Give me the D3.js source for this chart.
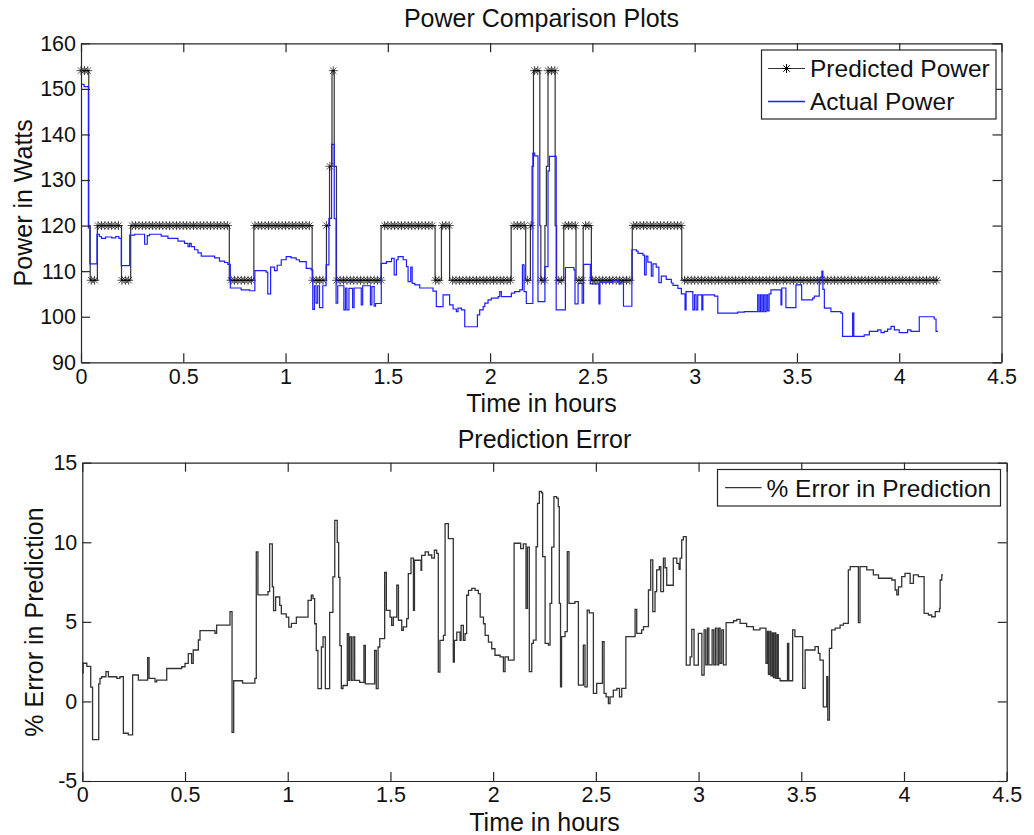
<!DOCTYPE html>
<html>
<head>
<meta charset="utf-8">
<script src="https://cdn.jsdelivr.net/npm/d3@7"></script>
<style>
  body { margin: 0; background: #fff; }
  svg { display: block; font-family: "Liberation Sans", Arial, sans-serif; }
</style>
</head>
<body>
<svg width="1034" height="835"></svg>
<script>
// tick labels
const hourTicks = [0, 0.5, 1, 1.5, 2, 2.5, 3, 3.5, 4, 4.5];
const wattTicks = [90, 100, 110, 120, 130, 140, 150, 160];
const errorTicks = [-5, 0, 5, 10, 15];

const tEnd = 4.19;          // last reading, hours
const sampleStep = 1 / 60;  // one prediction a minute

// [time in hours, watts] - each value holds until the next change
const predictedPower = [
  [0, 154], [0.038, 120], [0.045, 108], [0.08, 120], [0.198, 108], [0.243, 120],
  [0.725, 108], [0.845, 120], [1.13, 108], [1.2, 120], [1.215, 133], [1.227, 154],
  [1.238, 133], [1.249, 108], [1.467, 120], [1.731, 108], [1.762, 120], [1.802, 108],
  [2.103, 120], [2.174, 108], [2.197, 120], [2.205, 133], [2.212, 154], [2.243, 120],
  [2.248, 108], [2.268, 120], [2.275, 133], [2.283, 154], [2.318, 120], [2.325, 108],
  [2.36, 120], [2.42, 108], [2.455, 120], [2.495, 108], [2.695, 120], [2.937, 108]
];

const actualPower = [
  [0, 151.0], [0.015, 150.5], [0.036, 119.5], [0.043, 111.6], [0.078, 118.1], [0.09, 117.6],
  [0.1, 117.2], [0.12, 117.5], [0.15, 117.3], [0.17, 117.6], [0.185, 117.2], [0.197, 111.2],
  [0.238, 117.9], [0.262, 118.1], [0.311, 115.9], [0.324, 117.8], [0.335, 118.1], [0.392, 117.7],
  [0.425, 117.2], [0.474, 116.6], [0.506, 116.1], [0.523, 115.4], [0.531, 116.1], [0.539, 115.4],
  [0.555, 114.7], [0.572, 114.0], [0.588, 113.3], [0.653, 112.9], [0.677, 112.2], [0.702, 111.9],
  [0.718, 111.5], [0.73, 106.3], [0.783, 105.9], [0.824, 105.7], [0.85, 110.1], [0.905, 109.8],
  [0.913, 105.0], [0.927, 110.9], [0.946, 110.1], [0.959, 111.3], [0.979, 112.5], [1.003, 113.2],
  [1.027, 112.9], [1.052, 112.5], [1.068, 112.1], [1.101, 110.6], [1.125, 110.3], [1.133, 101.6],
  [1.141, 106.8], [1.149, 103.0], [1.157, 106.8], [1.166, 102.0], [1.182, 106.8], [1.198, 111.4],
  [1.212, 121.6], [1.225, 137.8], [1.238, 121.5], [1.247, 103.0], [1.255, 106.8], [1.285, 101.5],
  [1.293, 106.3], [1.3, 101.5], [1.31, 106.2], [1.328, 102.0], [1.335, 106.3], [1.37, 102.6],
  [1.377, 106.8], [1.415, 102.6], [1.422, 106.6], [1.433, 102.3], [1.44, 102.9], [1.468, 111.7],
  [1.493, 112.1], [1.518, 112.8], [1.531, 109.2], [1.542, 112.5], [1.55, 113.2], [1.575, 112.5],
  [1.591, 111.0], [1.599, 107.7], [1.612, 110.9], [1.619, 107.3], [1.632, 107.0], [1.656, 106.3],
  [1.721, 105.6], [1.737, 102.2], [1.77, 104.8], [1.802, 102.6], [1.819, 101.7], [1.835, 101.1],
  [1.843, 101.9], [1.86, 101.5], [1.876, 97.8], [1.938, 100.4], [1.949, 101.5], [1.966, 102.2],
  [1.974, 103.0], [1.99, 103.7], [2.006, 104.1], [2.039, 104.4], [2.047, 105.5], [2.055, 104.4],
  [2.104, 105.2], [2.12, 105.5], [2.145, 105.9], [2.158, 111.4], [2.166, 105.5], [2.177, 102.9],
  [2.209, 135.9], [2.218, 135.3], [2.234, 103.3], [2.268, 111.0], [2.283, 132.0], [2.29, 135.2],
  [2.323, 101.5], [2.368, 110.8], [2.41, 110.3], [2.415, 102.8], [2.43, 107.3], [2.45, 103.0],
  [2.457, 111.5], [2.49, 107.2], [2.532, 102.8], [2.537, 107.6], [2.6, 107.9], [2.63, 107.2],
  [2.64, 107.7], [2.652, 102.3], [2.693, 114.7], [2.715, 114.4], [2.723, 113.9], [2.747, 113.5],
  [2.755, 109.2], [2.763, 113.3], [2.771, 112.0], [2.788, 108.9], [2.796, 111.6], [2.812, 110.9],
  [2.825, 107.5], [2.837, 108.9], [2.861, 108.2], [2.886, 107.4], [2.894, 106.9], [2.918, 106.2],
  [2.935, 105.0], [2.953, 101.5], [2.958, 105.5], [2.991, 101.5], [2.999, 104.8], [3.007, 101.5],
  [3.015, 104.8], [3.035, 101.5], [3.04, 104.8], [3.097, 104.5], [3.113, 100.8], [3.21, 101.0],
  [3.243, 101.1], [3.308, 104.8], [3.315, 101.1], [3.322, 104.8], [3.329, 101.1], [3.336, 104.8],
  [3.343, 101.1], [3.35, 104.8], [3.357, 101.3], [3.364, 105.0], [3.373, 105.9], [3.422, 102.6],
  [3.426, 106.3], [3.446, 102.0], [3.495, 107.0], [3.523, 103.7], [3.577, 104.1], [3.585, 104.5],
  [3.609, 108.5], [3.622, 110.0], [3.627, 106.0], [3.634, 101.9], [3.666, 101.1], [3.715, 100.8],
  [3.723, 95.7], [3.772, 100.8], [3.778, 95.7], [3.829, 96.0], [3.854, 96.8], [3.895, 97.1],
  [3.911, 96.5], [3.927, 96.8], [3.943, 97.3], [3.96, 97.9], [3.976, 97.1], [4.0, 96.5],
  [4.041, 97.1], [4.057, 96.8], [4.098, 100.0], [4.171, 99.5], [4.18, 96.8]
];

// [time in hours, % error]
const predictionError = [
  [0, 1.8], [0.004, 2.4], [0.022, 2.2], [0.041, 0.9], [0.05, -2.4], [0.08, 1.1], [0.086, 1.45],
  [0.094, 1.55], [0.115, 1.87], [0.127, 1.55], [0.168, 1.45], [0.183, 1.55], [0.2, -2.0],
  [0.224, -2.1], [0.245, 1.66], [0.273, 1.34], [0.318, 2.75], [0.325, 1.45], [0.354, 1.23],
  [0.362, 1.34], [0.411, 2.07], [0.484, 2.18], [0.5, 2.39], [0.516, 3.0], [0.532, 2.39],
  [0.54, 3.23], [0.565, 3.86], [0.573, 4.45], [0.646, 4.27], [0.654, 4.8], [0.719, 5.64],
  [0.729, -1.95], [0.737, 1.3], [0.78, 1.15], [0.84, 1.45], [0.847, 9.4], [0.855, 6.7],
  [0.904, 6.9], [0.912, 9.9], [0.925, 7.2], [0.931, 5.7], [0.941, 6.56], [0.961, 6.04],
  [0.969, 5.5], [0.993, 5.3], [1.005, 4.67], [1.018, 4.9], [1.042, 5.3], [1.099, 6.35],
  [1.115, 6.67], [1.123, 6.46], [1.131, 4.88], [1.139, 3.2], [1.147, 0.8], [1.164, 3.42],
  [1.172, 4.05], [1.183, 0.8], [1.204, 5.6], [1.22, 7.82], [1.229, 11.38], [1.241, 10.0],
  [1.248, 7.8], [1.254, 3.5], [1.261, 0.8], [1.269, 1.0], [1.29, 4.26], [1.297, 1.32],
  [1.302, 4.05], [1.31, 1.32], [1.318, 4.05], [1.326, 1.32], [1.35, 1.2], [1.371, 3.52],
  [1.378, 1.1], [1.423, 3.2], [1.431, 0.8], [1.44, 3.42], [1.448, 3.94], [1.472, 8.1],
  [1.48, 5.72], [1.498, 5.3], [1.506, 4.78], [1.514, 5.3], [1.531, 7.3], [1.539, 5.1],
  [1.555, 4.47], [1.563, 4.68], [1.579, 5.2], [1.587, 8.03], [1.6, 9.0], [1.612, 5.72],
  [1.617, 8.87], [1.649, 8.24], [1.652, 9.18], [1.669, 9.4], [1.685, 9.2], [1.701, 9.0],
  [1.714, 9.5], [1.725, 9.3], [1.733, 1.84], [1.741, 3.84], [1.758, 4.15], [1.766, 11.17],
  [1.782, 10.23], [1.806, 2.47], [1.811, 3.84], [1.823, 4.36], [1.839, 3.84], [1.844, 4.78],
  [1.855, 3.84], [1.863, 4.26], [1.871, 6.67], [1.88, 6.98], [1.896, 7.1], [1.912, 6.98],
  [1.928, 6.77], [1.937, 5.3], [1.953, 4.88], [1.961, 4.15], [1.977, 3.73], [1.993, 3.31],
  [2.009, 2.9], [2.034, 2.8], [2.05, 1.87], [2.058, 2.8], [2.074, 2.6], [2.102, 9.94],
  [2.134, 9.6], [2.147, 9.9], [2.16, 5.85], [2.167, 9.7], [2.176, 1.87], [2.188, 3.65],
  [2.196, 3.85], [2.209, 9.72], [2.216, 12.45], [2.225, 13.19], [2.236, 13.1], [2.241, 9.1],
  [2.253, 3.65], [2.269, 3.54], [2.277, 6.16], [2.285, 9.7], [2.296, 12.87], [2.309, 12.77],
  [2.317, 12.24], [2.322, 6.16], [2.328, 0.92], [2.333, 4.07], [2.35, 4.38], [2.361, 9.41],
  [2.369, 6.16], [2.398, 6.27], [2.415, 1.03], [2.439, 3.54], [2.447, 0.92], [2.458, 5.74],
  [2.468, 5.57], [2.488, 0.5], [2.504, 1.13], [2.532, 3.75], [2.54, 0.5], [2.55, 0.29],
  [2.561, -0.13], [2.569, 0.29], [2.585, 0.71], [2.602, 0.82], [2.615, 0.29], [2.626, 0.82],
  [2.646, 4.07], [2.691, 5.79], [2.699, 4.28], [2.723, 4.49], [2.732, 4.7], [2.756, 7.0],
  [2.767, 8.89], [2.777, 5.64], [2.788, 6.9], [2.796, 8.26], [2.809, 8.47], [2.816, 6.9],
  [2.829, 9.0], [2.837, 8.4], [2.845, 7.3], [2.877, 9.0], [2.894, 8.68], [2.905, 8.3],
  [2.91, 9.0], [2.918, 10.15], [2.926, 10.36], [2.94, 2.28], [2.959, 2.8], [2.967, 4.53],
  [2.978, 2.28], [2.999, 4.28], [3.016, 1.66], [3.027, 4.49], [3.035, 2.3], [3.043, 4.6],
  [3.05, 2.3], [3.066, 4.5], [3.074, 2.3], [3.082, 4.6], [3.09, 2.3], [3.098, 4.6],
  [3.105, 2.4], [3.113, 4.5], [3.121, 2.3], [3.134, 4.95], [3.17, 5.07], [3.186, 5.16],
  [3.202, 4.91], [3.234, 4.7], [3.267, 4.49], [3.299, 4.6], [3.328, 2.39], [3.335, 4.4],
  [3.34, 1.7], [3.347, 4.4], [3.352, 1.6], [3.359, 4.3], [3.364, 1.5], [3.371, 4.3],
  [3.376, 1.45], [3.383, 4.2], [3.388, 1.45], [3.397, 1.3], [3.433, 3.65], [3.439, 1.3],
  [3.458, 4.49], [3.469, 4.07], [3.507, 0.82], [3.519, 3.23], [3.567, 3.44], [3.583, 3.02],
  [3.591, 2.6], [3.607, -0.34], [3.624, 1.55], [3.629, -1.17], [3.637, 3.33], [3.648, 4.49],
  [3.665, 4.6], [3.689, 4.8], [3.705, 4.9], [3.729, 8.26], [3.738, 8.47], [3.778, 4.95],
  [3.786, 8.47], [3.819, 8.26], [3.851, 7.95], [3.876, 7.74], [3.941, 7.63], [3.957, 7.0],
  [3.965, 6.69], [3.973, 7.2], [3.989, 7.84], [4.005, 8.05], [4.03, 7.42], [4.046, 7.95],
  [4.07, 7.84], [4.098, 5.53], [4.119, 5.43], [4.135, 5.32], [4.152, 5.64], [4.173, 5.85],
  [4.176, 7.63], [4.184, 7.95]
];

const svg = d3.select("svg");
const axisColor = "#262626";

// hold the last value out to the end of the record
const toEnd = s => s.concat([[tEnd, s[s.length - 1][1]]]);
const bisectT = d3.bisector(d => d[0]).right;
const valueAt = (s, t) => s[Math.max(0, bisectT(s, t) - 1)][1];

// MATLAB-like box axes: ticks inside on all four sides, labels bottom/left
function drawFrame(g, x, y, xTicks, yTicks) {
  const [x0, x1] = x.range(), [y0, y1] = y.range();
  const fmt = d => String(d);
  g.append("g").attr("transform", `translate(0,${y0})`)
    .call(d3.axisBottom(x).tickValues(xTicks).tickFormat(fmt).tickSizeInner(-9).tickSizeOuter(0).tickPadding(6));
  g.append("g").attr("transform", `translate(0,${y1})`)
    .call(d3.axisTop(x).tickValues(xTicks).tickFormat("").tickSizeInner(-9).tickSizeOuter(0));
  g.append("g").attr("transform", `translate(${x0},0)`)
    .call(d3.axisLeft(y).tickValues(yTicks).tickFormat(fmt).tickSizeInner(-9).tickSizeOuter(0).tickPadding(5));
  g.append("g").attr("transform", `translate(${x1},0)`)
    .call(d3.axisRight(y).tickValues(yTicks).tickFormat("").tickSizeInner(-9).tickSizeOuter(0));
  g.selectAll(".domain, .tick line").attr("stroke", axisColor).attr("stroke-width", 1.2);
  g.selectAll(".tick text").attr("font-size", 21.5).attr("fill", "#111")
    .attr("font-family", "'Liberation Sans', Arial, sans-serif");
}

function label(text, x, y, size, rotate) {
  svg.append("text")
    .attr("transform", `translate(${x},${y})` + (rotate ? " rotate(-90)" : ""))
    .attr("text-anchor", "middle")
    .attr("font-size", size)
    .attr("fill", "#111")
    .text(text);
}

const star = "M-4.5,0H4.5M0,-4.5V4.5M-3.2,-3.2L3.2,3.2M-3.2,3.2L3.2,-3.2";
const blue = "#1f1fff";

// ---------- top: power comparison ----------
const xTop = d3.scaleLinear().domain([0, 4.5]).range([81, 1001.5]);
const yTop = d3.scaleLinear().domain([90, 160]).range([362.3, 43.3]);

const powerPanel = svg.append("g");

const stepTop = d3.line().curve(d3.curveStepAfter)
  .x(d => xTop(d[0])).y(d => yTop(d[1]));

powerPanel.append("path")
  .datum(toEnd(predictedPower))
  .attr("fill", "none").attr("stroke", "#333").attr("stroke-width", 1.2)
  .attr("d", stepTop);

const samples = d3.range(0, tEnd + 1e-9, sampleStep).map(t => [t, valueAt(predictedPower, t)]);
powerPanel.append("g").selectAll("path")
  .data(samples)
  .join("path")
  .attr("transform", d => `translate(${xTop(d[0])},${yTop(d[1])})`)
  .attr("d", star)
  .attr("fill", "none").attr("stroke", "#000").attr("stroke-width", 0.9).attr("stroke-opacity", 0.75);

powerPanel.append("path")
  .datum(toEnd(actualPower))
  .attr("fill", "none").attr("stroke", blue).attr("stroke-width", 1.2)
  .attr("d", stepTop);

drawFrame(powerPanel, xTop, yTop, hourTicks, wattTicks);

// legend
const lg = powerPanel.append("g");
lg.append("rect").attr("x", 761.5).attr("y", 50).attr("width", 234.5).attr("height", 69)
  .attr("fill", "#fff").attr("stroke", axisColor).attr("stroke-width", 1.2);
lg.append("line").attr("x1", 768).attr("x2", 805).attr("y1", 68.5).attr("y2", 68.5)
  .attr("stroke", "#333").attr("stroke-width", 1.2);
lg.append("path").attr("transform", "translate(786.5,68.5)").attr("d", star)
  .attr("fill", "none").attr("stroke", "#000").attr("stroke-width", 1);
lg.append("line").attr("x1", 768).attr("x2", 805).attr("y1", 101.5).attr("y2", 101.5)
  .attr("stroke", blue).attr("stroke-width", 1.3);
lg.selectAll("text").data(["Predicted Power", "Actual Power"]).join("text")
  .attr("x", 810).attr("y", (d, i) => 68.5 + i * 33).attr("dy", "0.36em")
  .attr("font-size", 24.5).attr("fill", "#111").text(d => d);

label("Power Comparison Plots", 541.5, 27, 25);
label("Time in hours", 541.5, 411.5, 25);
label("Power in Watts", 31.5, 202.8, 25, true);

// ---------- bottom: prediction error ----------
const xBot = d3.scaleLinear().domain([0, 4.5]).range([82.3, 1006.7]);
const yBot = d3.scaleLinear().domain([-5, 15]).range([781, 462.7]);

const errorPanel = svg.append("g");

errorPanel.append("path")
  .datum(toEnd(predictionError))
  .attr("fill", "none").attr("stroke", "#333").attr("stroke-width", 1.3)
  .attr("d", d3.line().curve(d3.curveStepAfter).x(d => xBot(d[0])).y(d => yBot(d[1])));

drawFrame(errorPanel, xBot, yBot, hourTicks, errorTicks);

const lg2 = errorPanel.append("g");
lg2.append("rect").attr("x", 717.5).attr("y", 469.5).attr("width", 283).attr("height", 36.5)
  .attr("fill", "#fff").attr("stroke", axisColor).attr("stroke-width", 1.2);
lg2.append("line").attr("x1", 725).attr("x2", 761.5).attr("y1", 487.7).attr("y2", 487.7)
  .attr("stroke", "#333").attr("stroke-width", 1.3);
lg2.append("text").attr("x", 766.5).attr("y", 487.7).attr("dy", "0.36em")
  .attr("font-size", 24.5).attr("fill", "#111").text("% Error in Prediction");

label("Prediction Error", 544.5, 448, 25);
label("Time in hours", 544.5, 830.5, 25);
label("% Error in Prediction", 43, 622, 25, true);
</script>
</body>
</html>
